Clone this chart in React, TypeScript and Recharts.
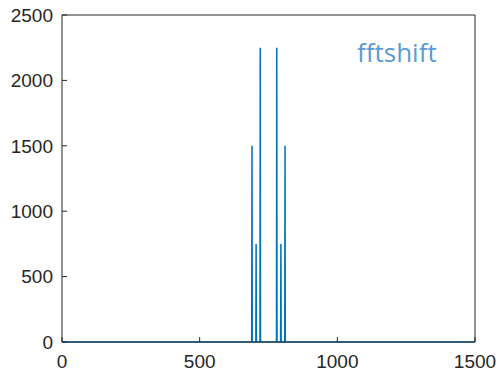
import React from 'react';
import { LineChart, Line, XAxis, YAxis } from 'recharts';

// sparse samples of the fftshift magnitude spectrum (all other samples are 0)
const sampleIndex = [0, 689, 690, 691, 704, 705, 706, 719, 720, 721, 779, 780, 781, 794, 795, 796, 809, 810, 811, 1500];
const magnitude = [0, 0, 1500, 0, 0, 750, 0, 0, 2250, 0, 0, 2250, 0, 0, 750, 0, 0, 1500, 0, 0];
const xTicks = [0, 500, 1000, 1500];
const yTicks = [0, 500, 1000, 1500, 2000, 2500];
const annotation = 'fftshift';

const data = sampleIndex.map((x, i) => ({ x, y: magnitude[i] }));

const axisColor = '#262626';
const tickFont = { fontFamily: 'Liberation Sans, Arial, sans-serif', fontSize: 19, fill: axisColor };

export default function App() {
  return (
    <div style={{ position: 'absolute', left: 0, top: 0, width: 500, height: 374, background: '#fff' }}>
      <LineChart width={500} height={374} data={data} margin={{ top: 0, right: 0, bottom: 0, left: 0 }}>
        <XAxis
          dataKey="x"
          type="number"
          domain={[0, 1500]}
          ticks={xTicks}
          height={32}
          tickSize={-5}
          tickMargin={18}
          stroke={axisColor}
          tick={tickFont}
          interval={0}
        />
        <XAxis
          xAxisId="top"
          orientation="top"
          dataKey="x"
          type="number"
          domain={[0, 1500]}
          ticks={xTicks}
          height={15}
          tickSize={-5}
          stroke={axisColor}
          tick={false}
          interval={0}
        />
        <YAxis
          type="number"
          domain={[0, 2500]}
          ticks={yTicks}
          width={62}
          tickSize={-5}
          tickMargin={14}
          stroke={axisColor}
          tick={tickFont}
          interval={0}
        />
        <YAxis
          yAxisId="right"
          orientation="right"
          type="number"
          domain={[0, 2500]}
          ticks={yTicks}
          width={25}
          tickSize={-5}
          stroke={axisColor}
          tick={false}
          interval={0}
        />
        <Line
          xAxisId="top"
          yAxisId="right"
          dataKey="y"
          stroke="none"
          dot={false}
          isAnimationActive={false}
        />
        <Line
          type="linear"
          dataKey="y"
          stroke="#0072BD"
          strokeWidth={1.5}
          dot={false}
          isAnimationActive={false}
        />
      </LineChart>
      <div
        style={{
          position: 'absolute',
          left: 357,
          top: 34,
          fontFamily: 'Open Sans, sans-serif',
          fontSize: 26,
          lineHeight: '36px',
          color: '#5B9BD5',
          whiteSpace: 'nowrap',
        }}
      >
        {annotation}
      </div>
    </div>
  );
}
